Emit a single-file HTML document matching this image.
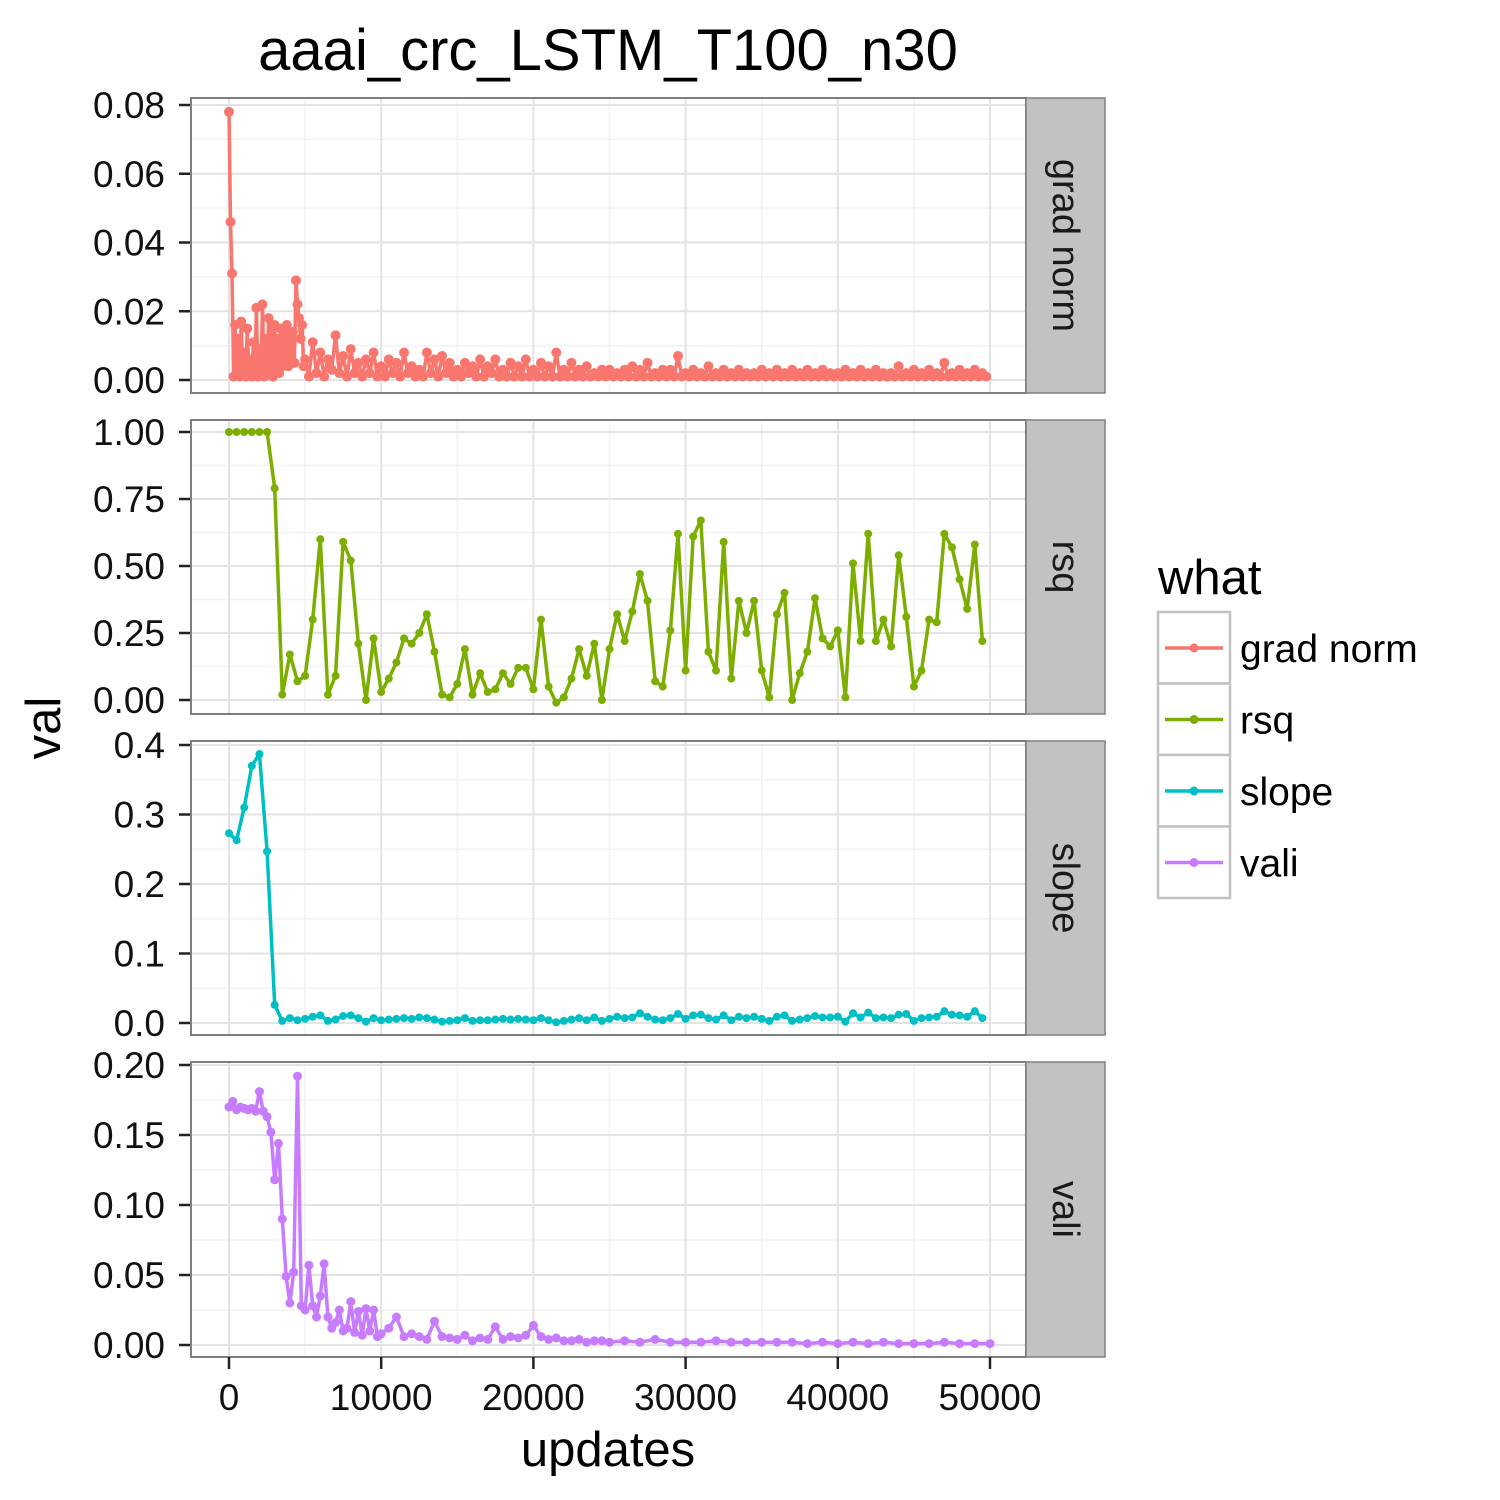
<!DOCTYPE html>
<html><head><meta charset="utf-8"><style>
body{margin:0;background:#fff}
svg{display:block}
text{font-family:"Liberation Sans",Arial,sans-serif}
</style></head><body>
<svg id="c" width="1500" height="1500" xmlns="http://www.w3.org/2000/svg"></svg>
<script>
const gradX=[];for(let i=0;i<50;i++)gradX.push(i*100);for(let i=20;i<200;i++)gradX.push(i*250);
const gradVals=[0.078,0.046,0.031,0.001,0.016,0.002,0.012,0.001,0.017,0.003,0.008,0.001,0.015,0.002,0.006,0.001,0.011,0.002,0.021,0.001,0.009,0.002,0.022,0.001,0.012,0.003,0.018,0.002,0.014,0.001,0.016,0.003,0.012,0.002,0.015,0.004,0.013,0.005,0.016,0.004,0.012,0.006,0.014,0.005,0.029,0.022,0.018,0.012,0.016,0.004,
0.006,0.001,0.011,0.002,0.008,0.001,0.006,0.003,0.013,0.002,0.007,0.001,0.009,0.002,0.005,0.001,0.006,0.002,0.008,0.001,
0.004,0.001,0.006,0.002,0.005,0.001,0.008,0.002,0.004,0.001,0.003,0.001,0.008,0.002,0.006,0.001,0.007,0.002,0.005,0.001,
0.003,0.001,0.005,0.002,0.004,0.001,0.006,0.001,0.004,0.002,0.006,0.001,0.003,0.001,0.005,0.001,0.004,0.001,0.006,0.001,
0.003,0.001,0.005,0.001,0.004,0.001,0.008,0.001,0.003,0.001,0.005,0.001,0.003,0.001,0.004,0.001,0.002,0.001,0.003,0.001,
0.003,0.001,0.002,0.001,0.003,0.001,0.004,0.001,0.003,0.001,0.005,0.001,0.002,0.001,0.003,0.001,0.003,0.001,0.007,0.001,
0.002,0.001,0.003,0.001,0.002,0.001,0.004,0.001,0.002,0.001,0.003,0.001,0.002,0.001,0.003,0.001,0.002,0.001,0.002,0.001,
0.003,0.001,0.002,0.001,0.003,0.001,0.002,0.001,0.003,0.001,0.002,0.001,0.003,0.001,0.002,0.001,0.003,0.001,0.002,0.001,
0.002,0.001,0.003,0.001,0.002,0.001,0.003,0.001,0.002,0.001,0.003,0.001,0.002,0.001,0.002,0.001,0.004,0.001,0.002,0.001,
0.003,0.001,0.002,0.001,0.003,0.001,0.002,0.001,0.005,0.001,0.002,0.001,0.003,0.001,0.002,0.001,0.003,0.001,0.002,0.001];
const rsqX=[];for(let i=0;i<100;i++)rsqX.push(i*500);
const rsqVals=[1,1,1,1,1,1,0.79,0.02,0.17,0.07,0.09,0.3,0.6,0.02,0.09,0.59,0.52,0.21,0.0,0.23,0.03,0.08,0.14,0.23,0.21,0.25,0.32,0.18,0.02,0.01,0.06,0.19,0.02,0.1,0.03,0.04,0.1,0.06,0.12,0.12,0.04,0.3,0.05,-0.01,0.01,0.08,0.19,0.09,0.21,0.0,0.19,0.32,0.22,0.33,0.47,0.37,0.07,0.05,0.26,0.62,0.11,0.61,0.67,0.18,0.11,0.59,0.08,0.37,0.25,0.37,0.11,0.01,0.32,0.4,0.0,0.1,0.18,0.38,0.23,0.2,0.26,0.01,0.51,0.22,0.62,0.22,0.3,0.2,0.54,0.31,0.05,0.11,0.3,0.29,0.62,0.57,0.45,0.34,0.58,0.22];
const slopeVals=[0.273,0.263,0.31,0.37,0.387,0.247,0.026,0.003,0.007,0.004,0.006,0.009,0.011,0.003,0.005,0.01,0.011,0.007,0.002,0.007,0.004,0.005,0.006,0.007,0.006,0.008,0.007,0.005,0.002,0.003,0.004,0.007,0.003,0.004,0.004,0.005,0.006,0.005,0.006,0.005,0.004,0.007,0.004,0.001,0.003,0.005,0.007,0.004,0.008,0.003,0.006,0.009,0.007,0.008,0.014,0.009,0.005,0.004,0.007,0.013,0.006,0.011,0.012,0.007,0.005,0.011,0.004,0.009,0.007,0.009,0.006,0.003,0.009,0.011,0.003,0.005,0.007,0.01,0.008,0.008,0.009,0.002,0.014,0.008,0.015,0.007,0.008,0.007,0.012,0.013,0.003,0.007,0.008,0.009,0.017,0.012,0.011,0.009,0.017,0.007];
const valiX=[0,250,500,750,1000,1250,1500,1750,2000,2250,2500,2750,3000,3250,3500,3750,4000,4250,4500,4750,5000,5250,5500,5750,6000,6250,6500,6750,7000,7250,7500,7750,8000,8250,8500,8750,9000,9250,9500,9750,10000,10500,11000,11500,12000,12500,13000,13500,14000,14500,15000,15500,16000,16500,17000,17500,18000,18500,19000,19500,20000,20500,21000,21500,22000,22500,23000,23500,24000,24500,25000,26000,27000,28000,29000,30000,31000,32000,33000,34000,35000,36000,37000,38000,39000,40000,41000,42000,43000,44000,45000,46000,47000,48000,49000,50000];
const valiVals=[0.17,0.174,0.168,0.17,0.169,0.168,0.169,0.167,0.181,0.167,0.163,0.152,0.118,0.144,0.09,0.049,0.03,0.052,0.192,0.028,0.025,0.057,0.028,0.02,0.035,0.058,0.02,0.012,0.016,0.025,0.01,0.012,0.031,0.009,0.024,0.007,0.026,0.01,0.025,0.006,0.008,0.012,0.02,0.006,0.008,0.006,0.004,0.017,0.006,0.005,0.004,0.007,0.003,0.005,0.004,0.013,0.004,0.006,0.005,0.007,0.014,0.006,0.004,0.005,0.003,0.003,0.004,0.002,0.003,0.003,0.002,0.003,0.002,0.004,0.002,0.002,0.002,0.003,0.002,0.002,0.002,0.002,0.002,0.001,0.002,0.001,0.002,0.001,0.002,0.001,0.001,0.001,0.002,0.001,0.001,0.001];
const xTicks=[0,10000,20000,30000,40000,50000];
const legendKeys=["grad norm","rsq","slope","vali"];
const colors=["#F8766D","#7CAE00","#00BFC4","#C77CFF"];

const NS="http://www.w3.org/2000/svg";const svg=document.getElementById('c');
function el(t,a,p){const e=document.createElementNS(NS,t);for(const k in a)e.setAttribute(k,a[k]);(p||svg).appendChild(e);return e;}
const X0=191,X1=1026;
const xs=v=>229+(v/50000)*761;
const panels=[
 {name:"grad norm",top:98,bot:393,y0:380,y1:105,vmax:0.08,ticks:[0,0.02,0.04,0.06,0.08],fmt:v=>v.toFixed(2),x:gradX,v:gradVals,r:5},
 {name:"rsq",top:420,bot:714,y0:700,y1:432,vmax:1,ticks:[0,0.25,0.5,0.75,1],fmt:v=>v.toFixed(2),x:rsqX,v:rsqVals,r:4},
 {name:"slope",top:741,bot:1035,y0:1023,y1:745,vmax:0.4,ticks:[0,0.1,0.2,0.3,0.4],fmt:v=>v.toFixed(1),x:rsqX,v:slopeVals,r:4},
 {name:"vali",top:1062,bot:1357,y0:1345,y1:1065,vmax:0.2,ticks:[0,0.05,0.1,0.15,0.2],fmt:v=>v.toFixed(2),x:valiX,v:valiVals,r:4.5}];
panels.forEach((p,pi)=>{
 const ys=v=>p.y0+(v/p.vmax)*(p.y1-p.y0);
 const g=el('g',{});
 
 
 el('rect',{x:X0,y:p.top,width:X1-X0,height:p.bot-p.top,fill:'#fff'},g);
 for(let i=0;i<xTicks.length-1;i++){const m=(xTicks[i]+xTicks[i+1])/2;el('line',{x1:xs(m),x2:xs(m),y1:p.top,y2:p.bot,stroke:'#f2f2f2','stroke-width':1.5},g);}
 for(let i=0;i<p.ticks.length-1;i++){const m=(p.ticks[i]+p.ticks[i+1])/2;el('line',{x1:X0,x2:X1,y1:ys(m),y2:ys(m),stroke:'#f2f2f2','stroke-width':1.5},g);}
 xTicks.forEach(t=>el('line',{x1:xs(t),x2:xs(t),y1:p.top,y2:p.bot,stroke:'#e3e3e3','stroke-width':2},g));
 p.ticks.forEach(t=>{const y=ys(t);
  el('line',{x1:X0,x2:X1,y1:y,y2:y,stroke:'#e3e3e3','stroke-width':2},g);
  el('line',{x1:X0-12,x2:X0,y1:y,y2:y,stroke:'#222','stroke-width':2.5},g);
  const tx=el('text',{x:X0-26,y:y+13,'text-anchor':'end','font-size':37,fill:'#111'},g);tx.textContent=p.fmt(t);
  });
 let d='';p.v.forEach((v,i)=>{d+=(i?'L':'M')+xs(p.x[i]).toFixed(1)+','+ys(v).toFixed(1);});
 const ln=el('path',{d:d,fill:'none',stroke:colors[pi],'stroke-width':3.5,'stroke-linejoin':'round'},g);
 
 p.v.forEach((v,i)=>{const c=el('circle',{cx:xs(p.x[i]),cy:ys(v),r:p.r,fill:colors[pi]},g);
  });
 el('rect',{x:X0,y:p.top,width:X1-X0,height:p.bot-p.top,fill:'none',stroke:'#7f7f7f','stroke-width':2},g);
 el('rect',{x:X1,y:p.top,width:79,height:p.bot-p.top,fill:'#c2c2c2',stroke:'#7f7f7f','stroke-width':1.5},g);
 const cy=(p.top+p.bot)/2;
 const st=el('text',{x:1066,y:cy,'text-anchor':'middle','font-size':38,fill:'#1a1a1a',transform:`rotate(90 1066 ${cy}) translate(0 13)`},g);
 st.textContent=p.name;
});
xTicks.forEach(t=>{el('line',{x1:xs(t),x2:xs(t),y1:1357,y2:1369,stroke:'#222','stroke-width':2.5});
 const tx=el('text',{x:xs(t),y:1410,'text-anchor':'middle','font-size':37,fill:'#111'});tx.textContent=t;
 });
let t=el('text',{x:608,y:70,'text-anchor':'middle','font-size':58,fill:'#000'});t.textContent='aaai_crc_LSTM_T100_n30';

t=el('text',{x:608,y:1466,'text-anchor':'middle','font-size':49,fill:'#000'});t.textContent='updates';

t=el('text',{x:60,y:728,'text-anchor':'middle','font-size':49,fill:'#000',transform:'rotate(-90 60 728)'});t.textContent='val';

t=el('text',{x:1158,y:594,'font-size':49,fill:'#000'});t.textContent='what';

legendKeys.forEach((k,i)=>{const y=612+i*71.5;
 const g=el('g',{});
 el('rect',{x:1158,y:y,width:72,height:71.5,fill:'#fff',stroke:'#c2c2c2','stroke-width':2.5},g);
 el('line',{x1:1165,x2:1223,y1:y+36,y2:y+36,stroke:colors[i],'stroke-width':3.5},g);
 el('circle',{cx:1194,cy:y+36,r:4.5,fill:colors[i]},g);
 const tx=el('text',{x:1240,y:y+50,'font-size':39,fill:'#000'},g);tx.textContent=k;});
</script>
</body></html>
